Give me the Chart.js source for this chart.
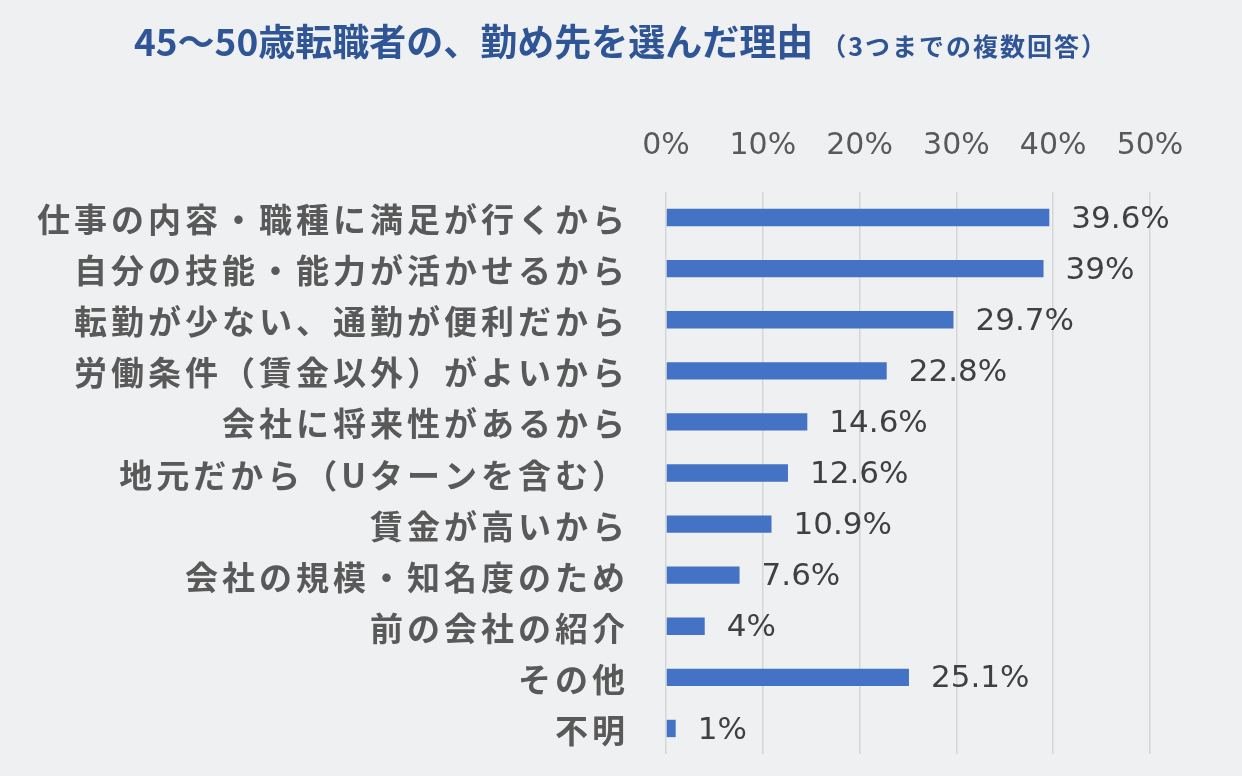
<!DOCTYPE html>
<html lang="ja">
<head>
<meta charset="utf-8">
<script src="https://cdn.jsdelivr.net/npm/chart.js@4.4.1/dist/chart.umd.min.js"></script>
<style>
  html, body { margin: 0; padding: 0; background: #eff0f2; }
  #wrap { position: relative; width: 1242px; height: 776px; overflow: hidden; }
  #title {
    position: absolute; left: 0; top: 13px; width: 1242px;
    text-align: center; color: #2f5597;
    font-family: "Noto Sans CJK JP", sans-serif; font-weight: 700;
    font-size: 37px; letter-spacing: 0px; line-height: 54px;
  }
  #title small { font-size: 25px; letter-spacing: 2px; margin-left: 8px; }
  canvas { position: absolute; left: 0; top: 0; }
</style>
</head>
<body>
<div id="wrap">
  <canvas id="chart" width="1242" height="776"></canvas>
  <div id="title">45〜50歳転職者の、勤め先を選んだ理由<small>（3つまでの複数回答）</small></div>
</div>
<script>
// ---- data ----
const categories = [
    '仕事の内容・職種に満足が行くから',
    '自分の技能・能力が活かせるから',
    '転勤が少ない、通勤が便利だから',
    '労働条件（賃金以外）がよいから',
    '会社に将来性があるから',
    '地元だから（Uターンを含む）',
    '賃金が高いから',
    '会社の規模・知名度のため',
    '前の会社の紹介',
    'その他',
    '不明'
];
const shares = [39.6, 39, 29.7, 22.8, 14.6, 12.6, 10.9, 7.6, 4, 25.1, 1];
const axisMax = 50;
const axisStep = 10;

// Category names on the left (drawn with letter spacing like the original)
const categoryLabels = {
    id: 'categoryLabels',
    afterDraw(chart) {
        const ctx = chart.ctx;
        const y = chart.scales.y;
        ctx.save();
        ctx.font = 'bold 33px "Noto Sans CJK JP"';
        ctx.letterSpacing = '4px';
        ctx.fillStyle = '#595959';
        ctx.textAlign = 'right';
        ctx.textBaseline = 'middle';
        chart.data.labels.forEach((label, i) => {
            ctx.fillText(label, 629, y.getPixelForTick(i) + 2);
        });
        ctx.restore();
    }
};

// Value labels at the end of each bar
const valueLabels = {
    id: 'valueLabels',
    afterDatasetsDraw(chart) {
        const ctx = chart.ctx;
        const meta = chart.getDatasetMeta(0);
        ctx.save();
        ctx.font = '31px "DejaVu Sans"';
        ctx.fillStyle = '#404040';
        ctx.textAlign = 'left';
        ctx.textBaseline = 'middle';
        meta.data.forEach((bar, i) => {
            ctx.fillText(shares[i] + '%', bar.x + 22, bar.y + 2);
        });
        ctx.restore();
    }
};

new Chart(document.getElementById('chart'), {
    type: 'bar',
    data: {
        labels: categories,
        datasets: [{
            data: shares,
            backgroundColor: '#4472c4',
            borderWidth: 0,
            barPercentage: 0.34,
            categoryPercentage: 1
        }]
    },
    options: {
        indexAxis: 'y',
        responsive: false,
        devicePixelRatio: 1,
        animation: false,
        layout: { padding: { top: 100, right: 92, bottom: 22, left: 0 } },
        plugins: {
            legend: { display: false },
            tooltip: { enabled: false }
        },
        scales: {
            x: {
                position: 'top',
                min: 0,
                max: axisMax,
                ticks: {
                    stepSize: axisStep,
                    callback: v => v + '%',
                    font: { family: 'DejaVu Sans', size: 30 },
                    color: '#595959',
                    padding: 28
                },
                grid: { color: '#d6d6d6', lineWidth: 1.5, drawTicks: false },
                border: { display: false }
            },
            y: {
                grid: { display: false },
                ticks: { display: false },
                border: { display: false },
                afterFit: s => { s.width = 666; }
            }
        }
    },
    plugins: [categoryLabels, valueLabels]
});
</script>
</body>
</html>
